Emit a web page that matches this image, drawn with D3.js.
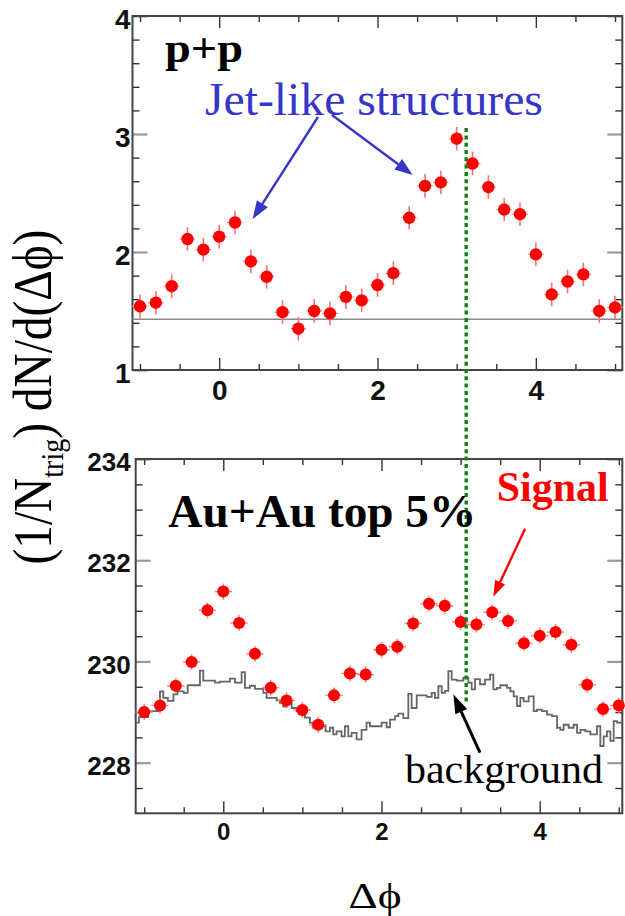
<html>
<head>
<script src="https://d3js.org/d3.v7.min.js"></script>
<title>dphi correlations</title>
<style>
  body { margin: 0; background: white; }
  svg { display: block; }
</style>
</head>
<body>
<svg id="chart" width="625" height="916"></svg>
<script>

// ---- data ----
var dphi = [-1.0, -0.8, -0.6, -0.4, -0.2, 0.0, 0.2, 0.4, 0.6, 0.8, 1.0, 1.2, 1.4, 1.6, 1.8, 2.0,
            2.2, 2.4, 2.6, 2.8, 3.0, 3.2, 3.4, 3.6, 3.8, 4.0, 4.2, 4.4, 4.6, 4.8, 5.0];

// p+p
var ppY = [1.54, 1.57, 1.71, 2.11, 2.02, 2.13, 2.25, 1.92, 1.79, 1.49, 1.35, 1.50, 1.48, 1.62, 1.59, 1.72,
           1.82, 2.29, 2.56, 2.59, 2.96, 2.75, 2.55, 2.36, 2.32, 1.98, 1.64, 1.75, 1.81, 1.50, 1.53];
var ppErr = 0.1;
var ppBase = 1.43;

// Au+Au top 5% signal
var auY = [229.00, 229.13, 229.52, 229.99, 231.01, 231.38, 230.76, 230.15, 229.48, 229.23, 229.04, 228.75,
           229.33, 229.76, 229.74, 230.23, 230.29, 230.75, 231.14, 231.10, 230.78, 230.73, 230.97, 230.80,
           230.36, 230.51, 230.58, 230.33, 229.54, 229.06, 229.13];
var auErr = 0.16;

// background histogram (left bin edge, value)
var bgEdges = [-1.107, -1.066, -0.948, -0.80, -0.758, -0.70, -0.63, -0.58, -0.50, -0.45, -0.295, -0.253,
               -0.105, -0.042, 0.084, 0.148, 0.232, 0.274, 0.337, 0.40, 0.506, 0.548, 0.674, 0.716,
               0.758, 0.80, 0.864, 0.927, 0.99, 1.032, 1.095, 1.137, 1.243, 1.293, 1.348, 1.39,
               1.432, 1.495, 1.537, 1.58, 1.622, 1.685, 1.748, 1.811, 1.854, 1.917, 2.002, 2.065,
               2.108, 2.171, 2.213, 2.276, 2.339, 2.381, 2.445, 2.571, 2.634, 2.676, 2.719, 2.761,
               2.803, 2.845, 2.887, 2.950, 3.035, 3.098, 3.140, 3.182, 3.245, 3.309, 3.372, 3.414,
               3.460, 3.502, 3.586, 3.629, 3.671, 3.713, 3.755, 3.797, 3.860, 3.924, 3.966, 4.029,
               4.092, 4.155, 4.219, 4.261, 4.303, 4.366, 4.429, 4.471, 4.514, 4.577, 4.640, 4.724,
               4.766, 4.808, 4.850, 4.893, 4.935, 4.977, 5.044];
var bgVals = [228.79, 228.90, 229.02, 229.41, 229.28, 229.22, 229.35, 229.41, 229.38, 229.53, 229.82, 229.62,
              229.58, 229.60, 229.66, 229.58, 229.79, 229.48, 229.52, 229.46, 229.38, 229.28, 229.23, 229.18,
              229.11, 229.18, 229.08, 229.02, 228.95, 228.89, 228.79, 228.69, 228.72, 228.62, 228.69, 228.56,
              228.62, 228.52, 228.72, 228.52, 228.59, 228.46, 228.65, 228.79, 228.72, 228.72, 228.79, 228.70,
              228.85, 228.92, 228.97, 228.88, 229.36, 229.08, 229.33, 229.30, 229.38, 229.28, 229.51, 229.38,
              229.42, 229.81, 229.64, 229.62, 229.68, 229.58, 229.45, 229.65, 229.55, 229.64, 229.74, 229.45,
              229.48, 229.53, 229.48, 229.41, 229.31, 229.12, 229.28, 229.21, 229.31, 229.02, 229.05, 229.02,
              228.95, 228.92, 228.69, 228.65, 228.75, 228.69, 228.75, 228.59, 228.65, 228.62, 228.56, 228.72,
              228.33, 228.52, 228.62, 228.43, 228.82, 228.79, 228.79];

// tick values
var topYMajor = [1, 2, 3, 4];
var topYMinor = [1.2, 1.4, 1.6, 1.8, 2.2, 2.4, 2.6, 2.8, 3.2, 3.4, 3.6, 3.8];
var botYMajor = [228, 230, 232, 234];
var botYMinor = [227.5, 228.5, 229, 229.5, 230.5, 231, 231.5, 232.5, 233, 233.5];
var xMajor = [0, 2, 4];
var xMinor = [-1, -0.5, 0.5, 1, 1.5, 2.5, 3, 3.5, 4.5, 5];

var awaySide = 3.12;   // dotted line position

// ---- setup ----
var svg = d3.select("#chart");
svg.append("rect").attr("width", 625).attr("height", 916).attr("fill", "white");

var xTop = d3.scaleLinear().domain([-1.095, 5.092]).range([132.5, 622.3]);
var yTop = d3.scaleLinear().domain([1, 4]).range([370, 16]);
var xBot = d3.scaleLinear().domain([-1.107, 5.044]).range([135.7, 622.3]);
var yBot = d3.scaleLinear().domain([227, 234]).range([813.3, 459]);

var sans = "'Liberation Sans', Arial, Helvetica, sans-serif";
var serif = "'Liberation Serif', 'Times New Roman', Times, serif";
var fmt = d3.format("d");

// draws frame + ticks for one panel
function drawFrame(xs, ys, yMaj, yMin, yLabelSize, yPad, xLabelSize, xPad) {
	var L = xs.range()[0], R = xs.range()[1], B = ys.range()[0], T = ys.range()[1];
	var g = svg.append("g");

	function put(axis, tx, ty, labels, size, col) {
		var a = g.append("g")
			.attr("transform", "translate(" + tx + "," + ty + ")")
			.call(axis);
		a.select(".domain").remove();
		a.selectAll("line").attr("stroke", col).attr("stroke-width", col == "#333" ? 1.4 : 2.2);
		if (labels) {
			a.attr("font-family", sans).attr("font-size", size).attr("font-weight", "bold");
			a.selectAll("text").attr("fill", "#111");
		}
		return a;
	}

	// left
	put(d3.axisLeft(ys).tickValues(yMin).tickSize(-7).tickFormat(""), L, 0, false, 0, "#333");
	var lab = put(d3.axisLeft(ys).tickValues(yMaj).tickSize(-15).tickPadding(yPad).tickFormat(fmt), L, 0, true, yLabelSize, "#999");
	lab.selectAll("text").attr("dy", "0.45em");
	// right
	put(d3.axisRight(ys).tickValues(yMin).tickSize(-7).tickFormat(""), R, 0, false, 0, "#333");
	put(d3.axisRight(ys).tickValues(yMaj).tickSize(-15).tickFormat(""), R, 0, false, 0, "#999");
	// bottom
	put(d3.axisBottom(xs).tickValues(xMinor).tickSize(-6).tickFormat(""), 0, B, false, 0, "#333");
	put(d3.axisBottom(xs).tickValues(xMajor).tickSize(-12).tickPadding(xPad).tickFormat(fmt), 0, B, true, xLabelSize, "#333");
	// top
	put(d3.axisTop(xs).tickValues(xMinor).tickSize(-6).tickFormat(""), 0, T, false, 0, "#333");
	put(d3.axisTop(xs).tickValues(xMajor).tickSize(-12).tickFormat(""), 0, T, false, 0, "#333");

	g.append("rect")
		.attr("x", L).attr("y", T).attr("width", R - L).attr("height", B - T)
		.attr("fill", "none").attr("stroke", "#444").attr("stroke-width", 2);
}

function drawArrow(x1, y1, x2, y2, col, w, hl, hw) {
	var ang = Math.atan2(y2 - y1, x2 - x1);
	var bx = x2 - hl * Math.cos(ang), by = y2 - hl * Math.sin(ang);
	svg.append("line")
		.attr("x1", x1).attr("y1", y1).attr("x2", bx).attr("y2", by)
		.attr("stroke", col).attr("stroke-width", w);
	var px = -Math.sin(ang) * hw / 2, py = Math.cos(ang) * hw / 2;
	svg.append("polygon")
		.attr("points", [[x2, y2], [bx + px, by + py], [bx - px, by - py]].map(function(p){ return p.join(","); }).join(" "))
		.attr("fill", col);
}

// ---- top panel: p+p ----
drawFrame(xTop, yTop, topYMajor, topYMinor, 28, 2, 28, 10);

svg.append("line")
	.attr("x1", xTop.range()[0]).attr("x2", xTop.range()[1])
	.attr("y1", yTop(ppBase)).attr("y2", yTop(ppBase))
	.attr("stroke", "#888").attr("stroke-width", 1.6);

var pp = dphi.map(function(d, i){ return {x: d, y: ppY[i]}; });
var ppG = svg.append("g");
ppG.selectAll(".ey").data(pp).enter().append("line")
	.attr("x1", function(d){ return xTop(d.x); }).attr("x2", function(d){ return xTop(d.x); })
	.attr("y1", function(d){ return yTop(d.y - ppErr); }).attr("y2", function(d){ return yTop(d.y + ppErr); })
	.attr("stroke", "#ff7070").attr("stroke-width", 1.6);
ppG.selectAll(".ex").data(pp).enter().append("line")
	.attr("x1", function(d){ return xTop(d.x - 0.1); }).attr("x2", function(d){ return xTop(d.x + 0.1); })
	.attr("y1", function(d){ return yTop(d.y); }).attr("y2", function(d){ return yTop(d.y); })
	.attr("stroke", "#ff9090").attr("stroke-width", 1.2);
ppG.selectAll("circle").data(pp).enter().append("circle")
	.attr("cx", function(d){ return xTop(d.x); })
	.attr("cy", function(d){ return yTop(d.y); })
	.attr("r", 6.2)
	.attr("fill", "#ff0000");

// ---- bottom panel: Au+Au ----
drawFrame(xBot, yBot, botYMajor, botYMinor, 26, 5, 24, 10);

var bg = bgEdges.map(function(d, i){ return [d, bgVals[i]]; });
svg.append("path")
	.datum(bg)
	.attr("d", d3.line()
		.x(function(d){ return xBot(d[0]); })
		.y(function(d){ return yBot(d[1]); })
		.curve(d3.curveStepAfter))
	.attr("fill", "none").attr("stroke", "#666").attr("stroke-width", 1.8);

var au = dphi.map(function(d, i){ return {x: d, y: auY[i]}; });
var auG = svg.append("g");
auG.selectAll(".ey").data(au).enter().append("line")
	.attr("x1", function(d){ return xBot(d.x); }).attr("x2", function(d){ return xBot(d.x); })
	.attr("y1", function(d){ return yBot(d.y - auErr); }).attr("y2", function(d){ return yBot(d.y + auErr); })
	.attr("stroke", "#ff8080").attr("stroke-width", 1.4);
auG.selectAll(".ex").data(au).enter().append("line")
	.attr("x1", function(d){ return xBot(d.x - 0.11); }).attr("x2", function(d){ return xBot(d.x + 0.11); })
	.attr("y1", function(d){ return yBot(d.y); }).attr("y2", function(d){ return yBot(d.y); })
	.attr("stroke", "#ff8080").attr("stroke-width", 1.4);
auG.selectAll("circle").data(au).enter().append("circle")
	.attr("cx", function(d){ return xBot(d.x); })
	.attr("cy", function(d){ return yBot(d.y); })
	.attr("r", 6)
	.attr("fill", "#ff0000");

// ---- dotted line at away side ----
svg.append("line")
	.attr("x1", xTop(awaySide)).attr("x2", xTop(awaySide))
	.attr("y1", yTop(3.05)).attr("y2", yBot(229.2))
	.attr("stroke", "#0a850a").attr("stroke-width", 3.4)
	.attr("stroke-dasharray", "4,3.3");

// ---- annotations ----
function label(txt, x, y, size, len, opt) {
	var t = svg.append("text")
		.attr("x", x).attr("y", y)
		.attr("font-family", opt.font || serif)
		.attr("font-size", size)
		.attr("font-weight", opt.bold ? "bold" : "normal")
		.attr("fill", opt.col || "#000")
		.attr("textLength", len).attr("lengthAdjust", "spacingAndGlyphs")
		.text(txt);
	return t;
}

label("p+p", xTop(-0.685), yTop(3.61), 42, 78, {bold: true});
label("Jet-like structures", xTop(-0.18), yTop(3.165), 46, 338, {col: "#3535c8"});
drawArrow(xTop(1.248), yTop(3.144), xTop(0.423), yTop(2.28), "#3535c8", 2.4, 18, 13);
drawArrow(xTop(1.425), yTop(3.161), xTop(2.444), yTop(2.653), "#3535c8", 2.4, 18, 13);

label("Au+Au top 5%", xBot(-0.695), yBot(232.65), 46, 308, {bold: true});
label("Signal", xBot(3.456), yBot(233.17), 42, 112, {bold: true, col: "#ff0000"});
drawArrow(xBot(3.815), yBot(232.62), xBot(3.413), yBot(231.28), "#ff0000", 2.4, 16, 11);
label("background", xBot(2.297), yBot(227.6), 40, 198, {});
drawArrow(xBot(3.245), yBot(228.2), xBot(2.908), yBot(229.35), "#000", 3, 19, 13);

// axis titles
svg.append("text")
	.attr("x", 375).attr("y", 908)
	.attr("text-anchor", "middle")
	.attr("font-family", serif).attr("font-size", 36)
	.attr("textLength", 53).attr("lengthAdjust", "spacingAndGlyphs")
	.text("\u0394\u03D5");

// y title: measured, then squeezed to the length seen in the figure
var yt = svg.append("text")
	.attr("font-family", serif).attr("font-size", 54);
yt.append("tspan").text("(1/N");
yt.append("tspan").attr("font-size", 32).attr("dy", 12).text("trig");
yt.append("tspan").attr("dy", -12).text(") dN/d(\u0394\u03D5)");
var bw = yt.node().getBBox().width;
yt.attr("x", -bw / 2)
	.attr("transform", "translate(51,397) rotate(-90) scale(" + (335 / bw) + ",1)");

</script>
</body>
</html>
